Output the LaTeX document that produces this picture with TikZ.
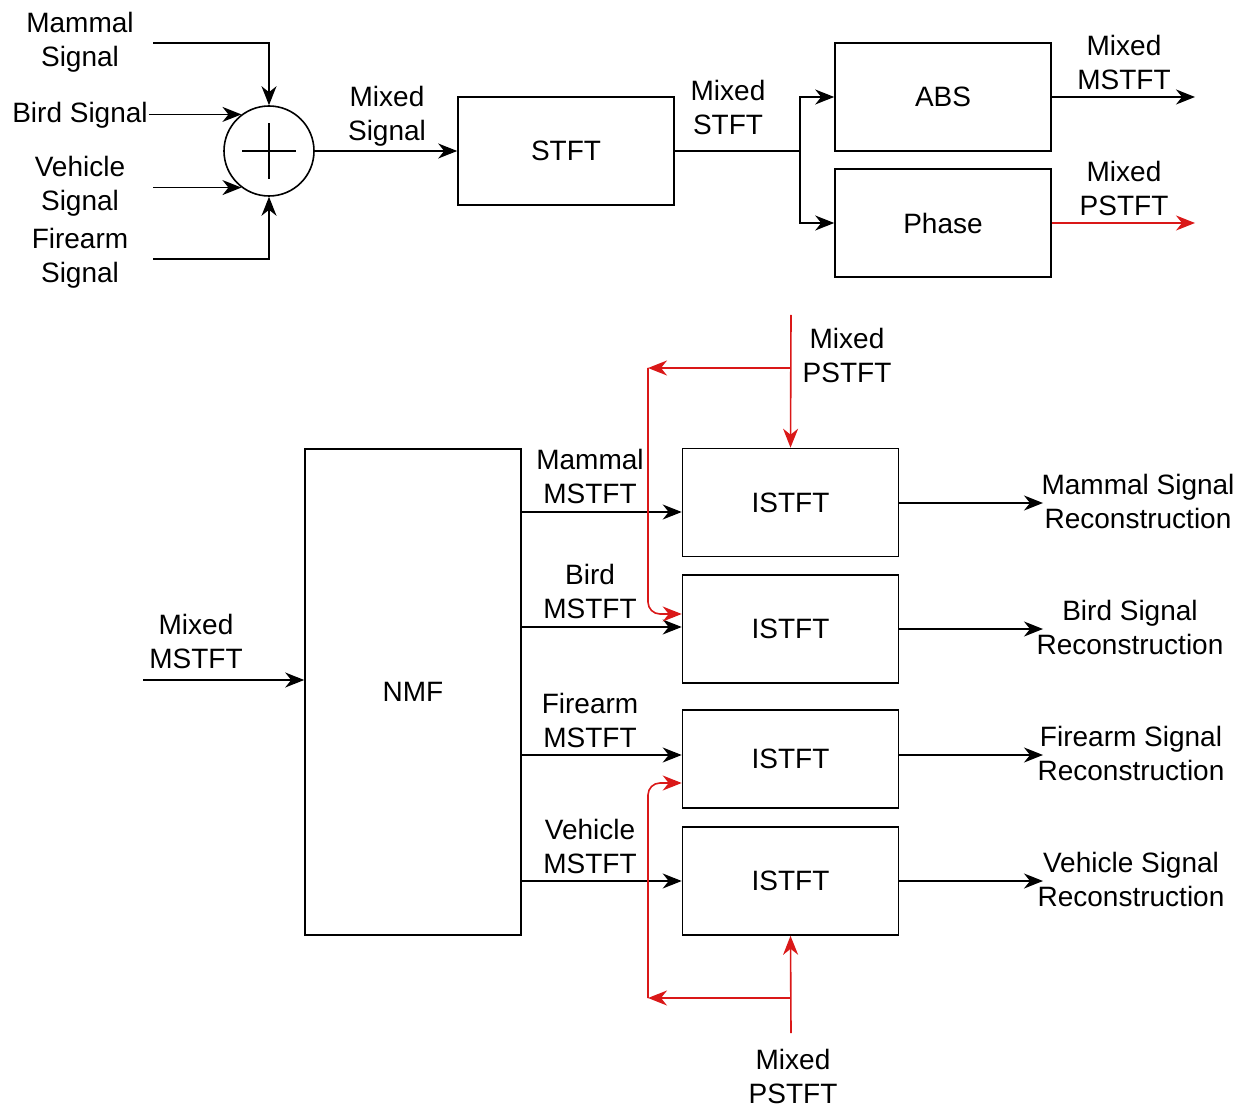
\documentclass[tikz,border=0pt]{standalone}
\usepackage{fontspec}
\setmainfont{Liberation Sans}
\usetikzlibrary{arrows.meta}
\definecolor{pstftred}{RGB}{218,24,24}

\begin{document}
\begin{tikzpicture}[x=0.5pt, y=-0.5pt, >={Stealth[length=9.5pt,width=7.5pt,inset=3pt]},
  font=\fontsize{14}{17}\selectfont, line width=0.8pt,
  block/.style={draw, minimum width=108pt, minimum height=54pt, inner sep=0pt},
  lbl/.style={align=center, inner sep=0pt},
  phase/.style={->, pstftred}]
  \useasboundingbox (0,0) rectangle (1246,1106);

  % mixing the four sources
  \node[draw, circle, minimum size=45pt, inner sep=0pt] (sum) at (269,151) {};
  \draw ([xshift=-13.5pt]sum.center) -- ([xshift=13.5pt]sum.center);
  \draw ([yshift=-14pt]sum.center) -- ([yshift=14pt]sum.center);

  \node[lbl] (mammal) at (80,42) {Mammal\\Signal};
  \node[lbl] (bird) at (80,115) {Bird Signal};
  \node[lbl] (vehicle) at (80,186) {Vehicle\\Signal};
  \node[lbl] (firearm) at (80,258) {Firearm\\Signal};
  \coordinate (mammalin) at (153,43);
  \coordinate (vehiclein) at (153,187);
  \coordinate (firearmin) at (153,259);

  \draw[->] (mammalin) -| (sum.north);
  \draw[->] (bird.east |- sum.127) -- (sum.127);
  \draw[->] (vehiclein |- sum.233) -- (sum.233);
  \draw[->] (firearmin) -| (sum.south);

  % transform
  \node[block] (stft) at (566,151) {STFT};
  \node[block] (abs) at (943,97) {ABS};
  \node[block] (phase) at (943,223) {Phase};
  \coordinate (split) at (800,151);
  \coordinate (absout) at (1195,97);
  \coordinate (phaseout) at (1195,223);

  \draw[->] (sum.east) -- (stft.west);
  \node[lbl] (mixsig) at (387,116) {Mixed\\Signal};
  \draw (stft.east) -- (split);
  \node[lbl] (mixstft) at (728,107) {Mixed\\STFT};
  \draw[->] (split) |- (abs.west);
  \draw[->] (split) |- (phase.west);
  \draw[->] (abs.east) -- (absout);
  \node[lbl] (mixm) at (1124,62) {Mixed\\MSTFT};
  \draw[phase] (phase.east) -- (phaseout);
  \node[lbl] (mixp) at (1124,188) {Mixed\\PSTFT};

  % separation
  \node[block, minimum height=243pt] (nmf) at (413,692) {NMF};
  \coordinate (nmfin) at (143,680);
  \draw[->] (nmfin) -- (nmfin -| nmf.west);
  \node[lbl] (nmflbl) at (196,641) {Mixed\\MSTFT};

  \node[block] (istA) at (790.5,502.5) {ISTFT};
  \node[block] (istB) at (790.5,629) {ISTFT};
  \node[block, minimum height=49pt] (istC) at (790.5,759) {ISTFT};
  \node[block] (istD) at (790.5,881) {ISTFT};

  \draw[->] (nmf.east |- 0,512) -- (istA.west |- 0,512);
  \node[lbl] at (590,476) {Mammal\\MSTFT};
  \draw[->] (nmf.east |- 0,627) -- (istB.west |- 0,627);
  \node[lbl] at (590,591) {Bird\\MSTFT};
  \draw[->] (nmf.east |- 0,755) -- (istC.west |- 0,755);
  \node[lbl] at (590,720) {Firearm\\MSTFT};
  \draw[->] (nmf.east |- 0,881) -- (istD.west |- 0,881);
  \node[lbl] at (590,846) {Vehicle\\MSTFT};

  % reconstruction
  \coordinate (outA) at (1043,503);
  \coordinate (outB) at (1043,629);
  \coordinate (outC) at (1043,755);
  \coordinate (outD) at (1043,881);
  \draw[->] (istA.east |- outA) -- (outA);
  \draw[->] (istB.east |- outB) -- (outB);
  \draw[->] (istC.east |- outC) -- (outC);
  \draw[->] (istD.east |- outD) -- (outD);
  \node[lbl] (recA) at (1138,501) {Mammal Signal\\Reconstruction};
  \node[lbl] (recB) at (1130,627) {Bird Signal\\Reconstruction};
  \node[lbl] (recC) at (1131,753) {Firearm Signal\\Reconstruction};
  \node[lbl] (recD) at (1131,879) {Vehicle Signal\\Reconstruction};

  % phase feed
  \coordinate (ptop) at (791,315);
  \coordinate (pbrA) at (791,368);
  \coordinate (pleftA) at (648,368);
  \draw[phase] (ptop) -- (istA.north);
  \draw[phase] (pbrA) -- (pleftA);
  \draw[phase, rounded corners=6pt] (pleftA) |- ([yshift=7.5pt]istB.west);
  \node[lbl] at (847,355) {Mixed\\PSTFT};

  \coordinate (pbot) at (791,1033);
  \coordinate (pbrB) at (791,998);
  \coordinate (pleftB) at (648,998);
  \draw[phase] (pbot) -- (istD.south);
  \draw[phase] (pbrB) -- (pleftB);
  \draw[phase, rounded corners=6pt] (pleftB) |- ([yshift=-12pt]istC.west);
  \node[lbl] at (793,1076) {Mixed\\PSTFT};
\end{tikzpicture}
\end{document}
